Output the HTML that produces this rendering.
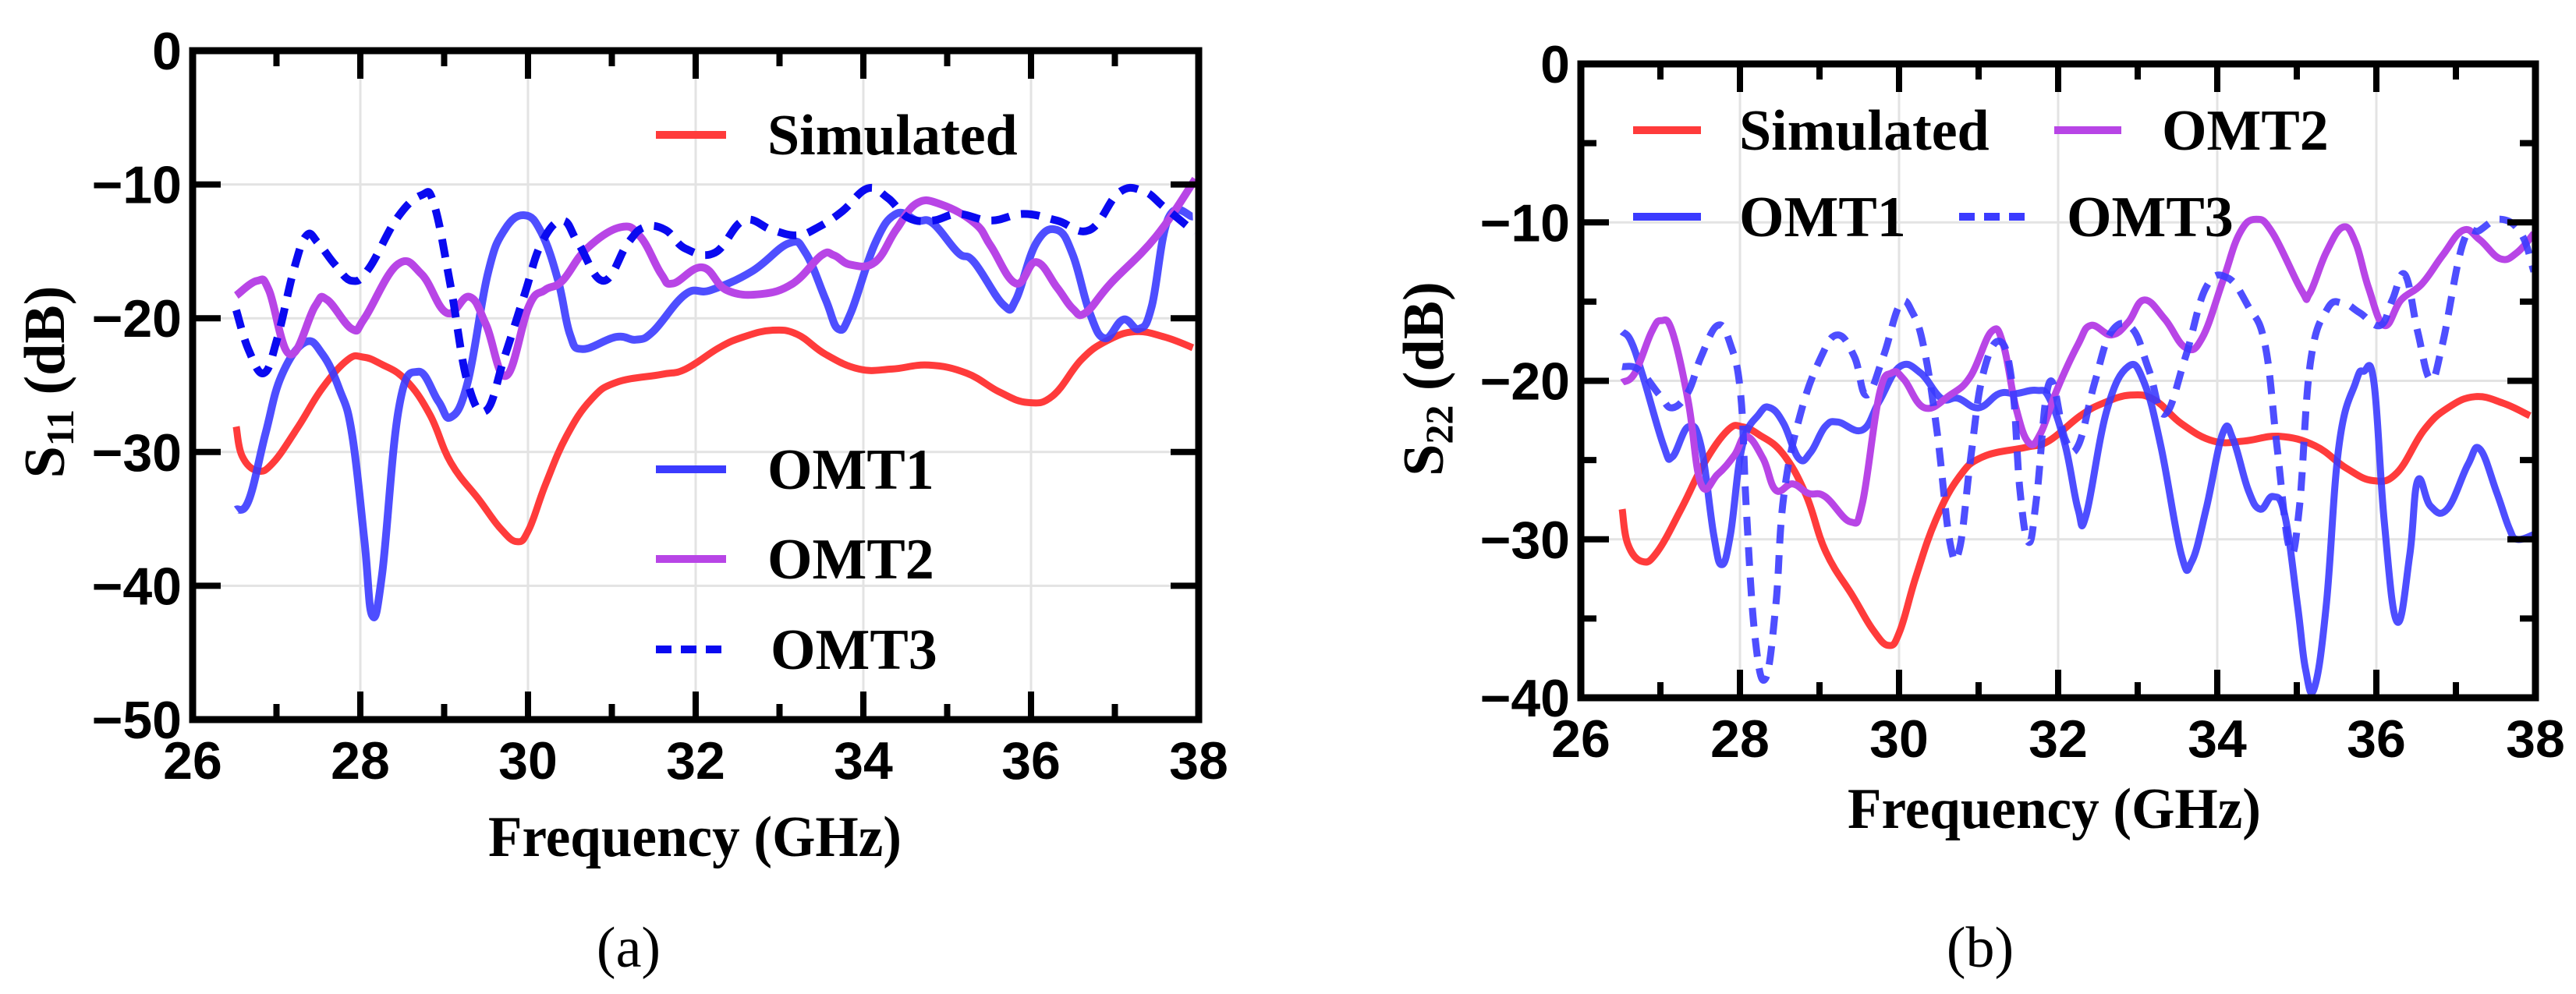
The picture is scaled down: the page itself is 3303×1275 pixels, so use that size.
<!DOCTYPE html>
<html><head><meta charset="utf-8">
<style>
html,body{margin:0;padding:0;background:#fff;}
svg{display:block;}
</style></head>
<body>
<svg id="fig" width="3303" height="1275" viewBox="0 0 3303 1275" xmlns="http://www.w3.org/2000/svg"></svg>
<script>
// ---------- data ----------
const xTicks = [26, 28, 30, 32, 34, 36, 38];
const yTicksA = [0, -10, -20, -30, -40, -50];
const yTicksB = [0, -10, -20, -30, -40];
const tickLabelsX = ["26","28","30","32","34","36","38"];

const simF = [26.52,26.59,26.77,26.96,27.26,27.55,27.85,28.03,28.24,28.54,28.83,29.08,29.42,29.67,29.87,30.01,30.21,30.46,30.75,31.05,31.59,31.88,32.28,32.57,32.91,33.21,33.55,33.95,34.34,34.78,35.23,35.62,35.96,36.26,36.6,36.9,37.24,37.59,37.93];
const simDB = [-28.1,-30.3,-31.4,-30.8,-28.1,-25.2,-23.1,-22.9,-23.4,-24.6,-27.2,-30.8,-33.6,-35.7,-36.7,-35.8,-32.4,-28.8,-26.1,-24.8,-24.2,-23.8,-22.2,-21.4,-20.9,-21.2,-22.7,-23.8,-23.8,-23.5,-24.1,-25.5,-26.3,-25.8,-23.1,-21.7,-21,-21.4,-22.2];

const a1F = [26.52,26.67,26.87,27.06,27.34,27.55,27.75,27.9,28.05,28.14,28.26,28.46,28.69,28.93,29.08,29.28,29.52,29.72,29.96,30.16,30.36,30.5,30.65,31.05,31.29,31.49,31.88,32.18,32.67,33.11,33.31,33.55,33.7,33.85,34.14,34.39,34.64,34.83,35.13,35.32,35.67,35.82,36.06,36.31,36.5,36.7,36.88,37.1,37.29,37.44,37.64,37.93];
const a1DB = [-34.3,-33.6,-28.6,-24.3,-21.8,-22.7,-25.3,-28.6,-36.7,-42.2,-39.1,-26.7,-24,-26.2,-27.4,-24.8,-16.7,-13.4,-12.3,-13.6,-17.2,-21.2,-22.3,-21.4,-21.6,-21,-18.2,-17.9,-16.5,-14.4,-15.1,-18.6,-20.8,-19.6,-14.4,-12.2,-12.7,-12.9,-15.1,-15.8,-19,-18.6,-14.4,-13.4,-15.3,-19.6,-21.5,-20.1,-20.8,-19.1,-12.5,-12.4];

const a2F = [26.52,26.77,26.91,27.16,27.46,27.6,27.9,28.05,28.44,28.73,29.03,29.3,29.5,29.74,30.01,30.2,30.41,30.7,31.1,31.34,31.59,31.73,32.08,32.37,32.77,33.16,33.5,33.65,33.85,34.14,34.39,34.64,34.93,35.33,35.52,35.82,36.06,36.31,36.5,36.65,36.95,37.49,37.96];
const a2DB = [-18.3,-17.2,-17.9,-22.7,-19.1,-18.6,-20.8,-20,-16,-16.7,-19.6,-18.4,-20.5,-24.3,-19.1,-17.9,-17.2,-14.8,-13.2,-13.9,-16.7,-17.4,-16.2,-17.9,-18.2,-17.4,-15.3,-15.3,-16,-15.8,-13.4,-11.4,-11.5,-12.9,-14.6,-17.4,-15.8,-17.7,-19.3,-19.6,-17.4,-13.9,-9.6];

const a3F = [26.52,26.67,26.85,27.01,27.21,27.36,27.5,27.7,27.9,28.1,28.44,28.73,28.88,29.08,29.28,29.5,29.72,29.96,30.16,30.41,30.6,30.9,31.19,31.39,31.64,31.88,32.23,32.57,32.91,33.21,33.46,33.75,34.05,34.29,34.54,34.83,35.13,35.52,35.91,36.31,36.7,37.05,37.34,37.59,37.96];
const a3DB = [-19.4,-22.4,-24.1,-21.5,-16.3,-13.8,-14.4,-16,-17.2,-16.3,-12.5,-10.8,-11.5,-17.7,-24.8,-26.9,-22.9,-18.2,-14.4,-12.7,-14.4,-17.2,-14.4,-13.2,-13.4,-14.8,-15.1,-12.7,-13.4,-13.8,-13.2,-12,-10.3,-11,-12.5,-12.7,-12.2,-12.7,-12.2,-12.7,-13.4,-10.6,-10.5,-11.7,-13.6];

const b1F = [26.52,26.63,26.78,27.04,27.15,27.35,27.51,27.67,27.77,27.88,28.03,28.24,28.38,28.55,28.74,28.89,29.07,29.23,29.54,29.75,30.01,30.27,30.53,30.74,31,31.26,31.47,31.73,31.89,32.09,32.25,32.35,32.61,32.88,33.08,33.29,33.55,33.68,33.86,34.07,34.2,34.39,34.54,34.7,34.85,35.01,35.11,35.22,35.37,35.53,35.74,35.84,35.97,36.1,36.26,36.42,36.52,36.68,36.89,37.15,37.3,37.51,37.67,37.77,37.98];
const b1DB = [-16.9,-17.5,-19.7,-24.1,-24.8,-22.9,-24.1,-29.7,-31.6,-29.7,-24.1,-22.1,-21.7,-22.7,-24.9,-24.5,-22.9,-22.6,-23.1,-21.3,-19.1,-19.5,-21.1,-21.1,-21.7,-20.8,-20.8,-20.6,-21.1,-24.1,-28.1,-28.5,-21.9,-19.1,-20.1,-24.1,-31,-31.4,-28.1,-23.3,-23.7,-26.9,-28.1,-27.3,-28.5,-34.2,-38.2,-39.4,-34.2,-24.1,-20.1,-19.4,-20.1,-28.9,-35.2,-31,-26.3,-27.9,-28.1,-25.3,-24.3,-27,-29.3,-30,-29.7];

const b2F = [26.52,26.68,26.89,27.01,27.15,27.35,27.51,27.72,27.93,28.08,28.29,28.45,28.66,28.86,29.07,29.39,29.54,29.75,29.91,30.06,30.32,30.64,30.9,31.16,31.31,31.47,31.63,31.78,31.99,32.25,32.41,32.67,32.88,33.08,33.34,33.6,33.81,34.07,34.28,34.49,34.7,35.06,35.16,35.37,35.58,35.74,35.9,36.1,36.31,36.57,36.83,37.09,37.3,37.56,37.77,37.98];
const b2DB = [-20.1,-19.5,-16.9,-16.2,-16.9,-21.3,-26.5,-25.9,-24.7,-23.5,-24.9,-26.9,-26.5,-27.1,-27.3,-28.9,-27.7,-20.9,-19.5,-19.9,-21.7,-20.9,-19.7,-16.9,-17.7,-21.7,-23.9,-23.3,-20.5,-17.7,-16.5,-17.1,-16.3,-14.9,-16.1,-17.9,-17.3,-13.7,-10.7,-9.8,-10.7,-14.3,-14.5,-11.9,-10.3,-11.3,-14.1,-16.5,-14.9,-13.9,-12.1,-10.5,-11.1,-12.3,-11.9,-10.7];

const b3F = [26.52,26.73,26.99,27.15,27.35,27.51,27.72,27.88,28.01,28.08,28.19,28.32,28.45,28.55,28.76,29.02,29.23,29.44,29.59,29.8,30.01,30.17,30.32,30.48,30.64,30.76,30.9,31.05,31.26,31.42,31.52,31.63,31.73,31.89,32.09,32.25,32.46,32.67,32.93,33.14,33.34,33.6,33.86,34.13,34.39,34.6,34.75,34.91,35.03,35.17,35.38,35.58,35.79,36.05,36.2,36.36,36.52,36.68,36.83,37.09,37.3,37.56,37.82,37.98];
const b3DB = [-19.1,-19.3,-20.9,-21.7,-20.7,-18.5,-16.5,-17.7,-20.9,-28.1,-36.2,-38.8,-34.2,-27.3,-22.1,-18.5,-17.1,-18.5,-20.9,-18.5,-15.2,-15.7,-18.1,-23.3,-30.2,-30.6,-24.9,-19.7,-17.5,-20.1,-26.9,-30.2,-27.3,-20.1,-23.7,-24.1,-20.1,-16.9,-16.7,-19.3,-22.1,-18.5,-14.1,-13.5,-15.3,-17.7,-24.1,-30.6,-28.1,-18.9,-15.5,-15.1,-15.7,-16.5,-14.9,-13.3,-16.9,-19.9,-17.7,-11.3,-10.5,-9.8,-10.7,-13.1];

// ---------- drawing ----------
const NS = "http://www.w3.org/2000/svg";
const svg = document.getElementById("fig");
function mk(tag, attrs, parent, text) {
  const e = document.createElementNS(NS, tag);
  for (const k in attrs) e.setAttribute(k, attrs[k]);
  if (text !== undefined) e.textContent = text;
  (parent || svg).appendChild(e);
  return e;
}
function smoothPath(P) {
  let d = "M" + P[0][0].toFixed(1) + "," + P[0][1].toFixed(1);
  for (let i = 0; i < P.length - 1; i++) {
    const p0 = P[i - 1] || P[i], p1 = P[i], p2 = P[i + 1], p3 = P[i + 2] || p2;
    const t = 0.2;
    const c1x = p1[0] + (p2[0] - p0[0]) * t, c1y = p1[1] + (p2[1] - p0[1]) * t;
    const c2x = p2[0] - (p3[0] - p1[0]) * t, c2y = p2[1] - (p3[1] - p1[1]) * t;
    d += " C" + c1x.toFixed(1) + "," + c1y.toFixed(1) + " " + c2x.toFixed(1) + "," + c2y.toFixed(1) + " " + p2[0].toFixed(1) + "," + p2[1].toFixed(1);
  }
  return d;
}
const RED = "#ff3b3b", BLUE = "#3b3bff", PURPLE = "#b845e6", DBLUE = "#0a0af0";
const TICKFONT = "'Liberation Sans Narrow','Liberation Sans',sans-serif";
const SERIF = "'Liberation Serif',serif";

function drawPanel(p) {
  const g = mk("g", {});
  
  
  const xs = f => p.x0 + (f - 26) / 12 * (p.x1 - p.x0);
  const ys = d => p.y0 + (d / p.ymin) * (p.y1 - p.y0);
  xTicks.forEach(t => { if (t > 26 && t < 38) { const l = mk("line", {x1: xs(t), x2: xs(t), y1: p.y0, y2: p.y1, stroke: "#e3e3e3", "stroke-width": 3}, g);   } });
  p.yTicks.forEach(t => { if (t < 0 && t > p.ymin) { const l = mk("line", {x1: p.x0, x2: p.x1, y1: ys(t), y2: ys(t), stroke: "#e3e3e3", "stroke-width": 3}, g);   } });
  p.series.forEach(s => {
    const P = s.f.map((f, i) => [xs(f), ys(s.d[i])]);
    const attrs = {d: smoothPath(P), fill: "none", stroke: s.color, "stroke-width": s.w, "stroke-linejoin": "round", "stroke-linecap": "butt", "stroke-opacity": s.op || 1};
    if (s.dash) attrs["stroke-dasharray"] = s.dash;
    const pl = mk("path", attrs, g);
    
    
  });
  const tk = mk("g", {stroke: "#000", "stroke-width": 8}, g);
  
  
  for (let f = 27; f <= 37; f++) {
    const len = f % 2 === 0 ? 36 : 20;
    mk("line", {x1: xs(f), x2: xs(f), y1: p.y1, y2: p.y1 - len}, tk);
    mk("line", {x1: xs(f), x2: xs(f), y1: p.y0, y2: p.y0 + len}, tk);
  }
  const step = p.minorY ? 5 : 10;
  for (let d = -step; d > p.ymin; d -= step) {
    const len = (d % 10 === 0) ? 36 : 20;
    mk("line", {x1: p.x0, x2: p.x0 + len, y1: ys(d), y2: ys(d)}, tk);
    mk("line", {x1: p.x1, x2: p.x1 - len, y1: ys(d), y2: ys(d)}, tk);
  }
  const fr = mk("rect", {x: p.x0, y: p.y0, width: p.x1 - p.x0, height: p.y1 - p.y0, fill: "none", stroke: "#000", "stroke-width": 9}, g);
  
  
  xTicks.forEach((t, i) => {
    const tx = mk("text", {x: xs(t), y: p.y1 + 76, "text-anchor": "middle", "font-family": TICKFONT, "font-weight": "bold", "font-size": 68}, g, tickLabelsX[i]);
    
    
  });
  p.yTicks.forEach(t => {
    const lab = t === 0 ? "0" : "\u2212" + Math.abs(t);
    const tx = mk("text", {x: p.x0 - 14, y: ys(t) + 24, "text-anchor": "end", "font-family": TICKFONT, "font-weight": "bold", "font-size": 68}, g, lab);
    
    
  });
  const xt = mk("text", {x: p.xtx, y: p.xty, "text-anchor": "middle", "font-family": SERIF, "font-weight": "bold", "font-size": 74, textLength: 530, lengthAdjust: "spacingAndGlyphs"}, g, "Frequency (GHz)");
  
  
  const yt = mk("text", {transform: "translate(" + p.ytx + "," + p.yty + ") rotate(-90)", "text-anchor": "middle", "font-family": SERIF, "font-weight": "bold", "font-size": 74}, g);
  
  
  mk("tspan", {}, yt, "S");
  mk("tspan", {"font-size": 50, dy: 12}, yt, p.sub);
  mk("tspan", {dy: -12}, yt, " (dB)");
  const cp = mk("text", {x: p.capx, y: 1240, "text-anchor": "middle", "font-family": SERIF, "font-size": 74}, g, p.cap);
  
  
  p.legend.forEach(L => {
    const lg = mk("g", {}, g);
    
    
    const la = {x1: L.lx1, x2: L.lx2, y1: L.y, y2: L.y, stroke: L.color, "stroke-width": 10, "stroke-opacity": L.op || 1};
    if (L.dash) la["stroke-dasharray"] = L.dash;
    mk("line", la, lg);
    mk("text", {x: L.tx, y: L.y + 25, "font-family": SERIF, "font-weight": "bold", "font-size": 74}, lg, L.label);
  });
}

drawPanel({
  name: "chart-s11", x0: 247, x1: 1537, y0: 65, y1: 923, ymin: -50, yTicks: yTicksA, minorY: false,
  sub: "11", cap: "(a)", capx: 806, xtx: 891, xty: 1098, ytx: 82, yty: 490,
  series: [
    {name: "series-simulated", f: simF, d: simDB, color: RED, w: 9},
    {name: "series-omt1", f: a1F, d: a1DB, color: BLUE, w: 10, op: 0.9},
    {name: "series-omt2", f: a2F, d: a2DB, color: PURPLE, w: 10},
    {name: "series-omt3", f: a3F, d: a3DB, color: DBLUE, w: 10, dash: "24 15"}
  ],
  legend: [
    {label: "Simulated", color: RED, lx1: 841, lx2: 931, tx: 984, y: 173},
    {label: "OMT1", color: BLUE, lx1: 841, lx2: 931, tx: 984, y: 602},
    {label: "OMT2", color: PURPLE, lx1: 841, lx2: 931, tx: 984, y: 717},
    {label: "OMT3", color: DBLUE, lx1: 841, lx2: 935, tx: 988, y: 833, dash: "20 12"}
  ]
});

drawPanel({
  name: "chart-s22", x0: 2027, x1: 3251, y0: 82, y1: 895, ymin: -40, yTicks: yTicksB, minorY: true,
  sub: "22", cap: "(b)", capx: 2539, xtx: 2634, xty: 1062, ytx: 1850, yty: 486,
  series: [
    {name: "series-simulated", f: simF, d: simDB, color: RED, w: 9},
    {name: "series-omt1", f: b1F, d: b1DB, color: BLUE, w: 9, op: 0.9},
    {name: "series-omt2", f: b2F, d: b2DB, color: PURPLE, w: 9},
    {name: "series-omt3", f: b3F, d: b3DB, color: BLUE, w: 9, op: 0.9, dash: "24 15"}
  ],
  legend: [
    {label: "Simulated", color: RED, lx1: 2094, lx2: 2181, tx: 2230, y: 167},
    {label: "OMT2", color: PURPLE, lx1: 2634, lx2: 2720, tx: 2772, y: 167},
    {label: "OMT1", color: BLUE, lx1: 2094, lx2: 2181, tx: 2230, y: 278},
    {label: "OMT3", color: BLUE, lx1: 2512, lx2: 2597, tx: 2650, y: 278, dash: "20 12"}
  ]
});
</script>
</body></html>
